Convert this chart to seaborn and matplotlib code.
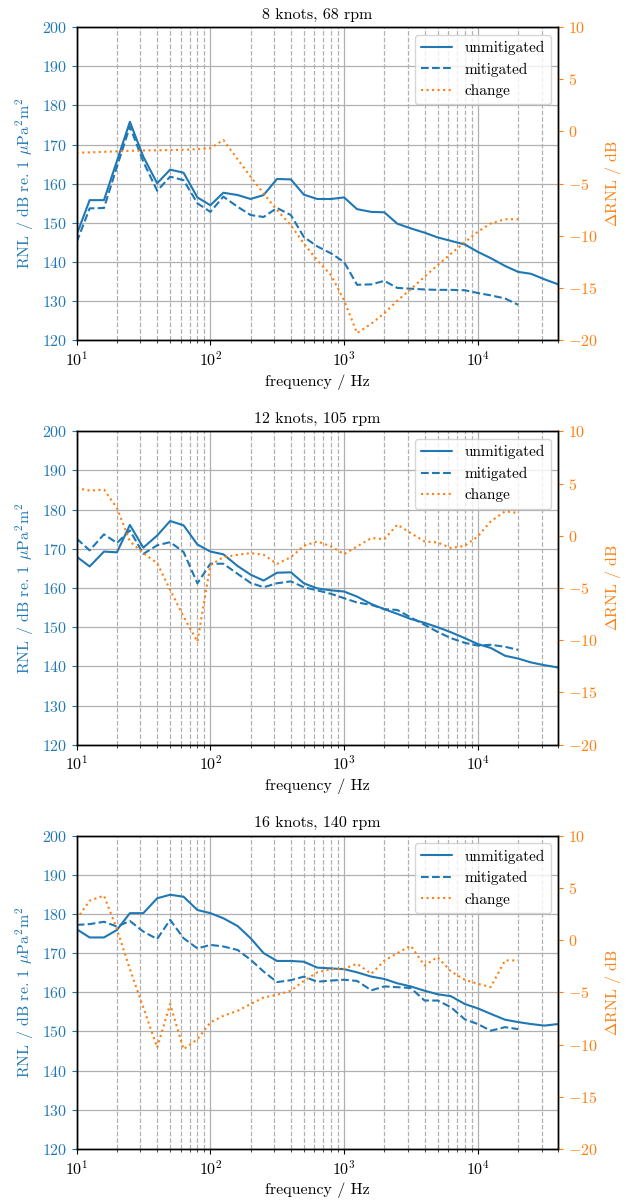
import matplotlib
matplotlib.use("Agg")
import matplotlib.pyplot as plt
import pandas as pd
import seaborn as sns

# one-third octave band centre frequencies (Hz)
freq = [10, 12.5, 16, 20, 25, 31.5, 40, 50, 63, 80, 100, 125, 160, 200, 250,
        315, 400, 500, 630, 800, 1000, 1250, 1600, 2000, 2500, 3150, 4000,
        5000, 6300, 8000, 10000, 12500, 16000, 20000, 25000, 31500, 40000]
n_mit = 34  # mitigated / change series stop at 20 kHz

titles = ["8 knots, 68 rpm", "12 knots, 105 rpm", "16 knots, 140 rpm"]

# --- 8 knots, 68 rpm ---
unmit_8 = [147.0, 155.8, 155.8, 165.8, 175.8, 166.9, 160.1, 163.6, 162.8, 156.5,
           154.5, 157.7, 157.1, 156.1, 157.1, 161.2, 161.1, 157.2, 156.1, 156.1,
           156.5, 153.5, 152.8, 152.7, 149.8, 148.6, 147.5, 146.3, 145.4, 144.5,
           142.6, 141.0, 139.0, 137.5, 137.0, 135.6, 134.3]
mit_8 = [145.1, 153.7, 153.8, 164.3, 174.6, 165.6, 158.2, 161.8, 160.9, 155.0,
         152.8, 156.7, 154.1, 152.0, 151.5, 153.8, 152.0, 146.4, 144.0, 142.2,
         140.0, 134.2, 134.3, 135.2, 133.4, 133.2, 133.0, 132.9, 132.9, 132.8,
         132.1, 131.5, 130.7, 129.1]
change_8 = [-2.03, -2.0, -1.95, -1.9, -1.85, -1.82, -1.8, -1.78, -1.75, -1.7,
            -1.6, -0.82, -2.67, -4.33, -5.93, -7.53, -8.97, -10.73, -12.33, -13.77,
            -16.16, -19.3, -18.4, -17.4, -16.2, -15.1, -13.9, -12.8, -11.7, -10.6,
            -9.6, -8.8, -8.4, -8.4]

# --- 12 knots, 105 rpm ---
unmit_12 = [168.0, 165.5, 169.3, 169.1, 176.1, 170.3, 173.4, 177.1, 176.0, 171.1,
            169.3, 168.6, 165.6, 163.4, 161.9, 163.9, 164.0, 161.2, 159.9, 159.4,
            159.1, 157.8, 155.9, 154.6, 153.4, 152.1, 151.1, 150.0, 148.7, 147.2,
            145.7, 144.7, 142.7, 142.0, 141.0, 140.3, 139.7]
mit_12 = [172.6, 169.6, 173.7, 171.5, 174.7, 168.7, 170.9, 171.7, 169.2, 161.2,
          166.2, 166.2, 163.6, 161.3, 160.2, 161.2, 161.7, 160.2, 159.4, 158.5,
          157.4, 156.3, 155.7, 154.6, 154.4, 152.5, 150.6, 148.8, 147.2, 146.0,
          145.3, 145.5, 145.0, 144.2]
change_12 = [4.58, 4.32, 4.42, 2.66, -0.54, -1.66, -2.62, -5.18, -7.74, -10.14,
             -2.8, -2.05, -1.82, -1.66, -1.82, -2.69, -2.05, -0.96, -0.54, -1.02,
             -1.76, -1.02, -0.22, -0.32, 1.06, 0.26, -0.54, -0.64, -1.18, -0.96,
             -0.06, 1.38, 2.34, 2.18]

# --- 16 knots, 140 rpm ---
unmit_16 = [176.1, 174.0, 174.0, 175.9, 180.2, 180.2, 184.0, 184.9, 184.4, 181.0,
            180.2, 178.9, 176.9, 173.8, 170.0, 168.0, 168.0, 167.8, 166.3, 166.1,
            165.9, 165.1, 164.0, 163.4, 162.3, 161.5, 160.4, 159.5, 159.0, 157.0,
            155.9, 154.5, 153.0, 152.4, 151.9, 151.5, 151.9]
mit_16 = [177.2, 177.4, 178.0, 176.8, 178.2, 175.5, 173.6, 178.5, 173.8, 171.2,
          172.1, 171.7, 170.8, 168.3, 165.3, 162.6, 163.1, 164.0, 162.7, 163.0,
          163.2, 162.9, 160.5, 161.5, 161.3, 161.1, 157.9, 157.9, 156.2, 153.1,
          151.9, 150.2, 151.1, 150.6]
change_16 = [2.0, 3.77, 4.25, 1.05, -2.78, -6.45, -10.29, -6.13, -10.45, -9.49,
             -7.89, -7.25, -6.77, -6.13, -5.50, -5.24, -4.86, -3.90, -3.10, -2.78,
             -2.75, -2.27, -3.23, -1.98, -1.25, -0.54, -2.43, -1.63, -3.0, -3.8,
             -4.19, -4.5, -1.95, -1.95]

panels = [(unmit_8, mit_8, change_8),
          (unmit_12, mit_12, change_12),
          (unmit_16, mit_16, change_16)]

BLUE = "#1f77b4"
ORANGE = "#ff7f0e"

sns.set_theme(style="ticks")
plt.rcParams.update({
    "font.family": ["cmr10"],
    "mathtext.fontset": "cm",
    "axes.formatter.use_mathtext": True,
    "font.size": 11.5,
    "axes.titlesize": 11.5,
    "axes.labelsize": 11.5,
    "xtick.labelsize": 11.5,
    "ytick.labelsize": 11.5,
    "legend.fontsize": 11,
    "axes.edgecolor": "black",
    "axes.linewidth": 1.0,
    "xtick.major.size": 3.5,
    "ytick.major.size": 3.5,
    "xtick.minor.size": 2.0,
    "xtick.major.width": 0.8,
    "ytick.major.width": 0.8,
    "xtick.minor.width": 0.6,
    "lines.linewidth": 1.5,
    "text.color": "black",
    "axes.labelcolor": "black",
})

fig, axes = plt.subplots(3, 1, figsize=(6.27, 12.0), dpi=100)
fig.subplots_adjust(left=0.1223, right=0.8904, top=0.9775, bottom=0.0425,
                    hspace=0.29)

for ax, title, (unmit, mit, change) in zip(axes, titles, panels):
    df_u = pd.DataFrame({"frequency": freq, "RNL": unmit})
    df_m = pd.DataFrame({"frequency": freq[:n_mit], "RNL": mit})
    df_c = pd.DataFrame({"frequency": freq[:n_mit], "dRNL": change})

    sns.lineplot(data=df_u, x="frequency", y="RNL", ax=ax, color=BLUE,
                 linestyle="-", label="unmitigated", legend=False)
    sns.lineplot(data=df_m, x="frequency", y="RNL", ax=ax, color=BLUE,
                 linestyle="--", label="mitigated", legend=False)

    ax2 = ax.twinx()
    sns.lineplot(data=df_c, x="frequency", y="dRNL", ax=ax2, color=ORANGE,
                 linestyle=":", label="change", legend=False)

    ax.set_xscale("log")
    ax.set_xlim(10, 40000)
    ax.set_ylim(120, 200)
    ax2.set_ylim(-20, 10)
    ax.set_yticks(range(120, 201, 10))
    ax2.set_yticks(range(-20, 11, 5))

    ax.grid(True, which="major", axis="both", color="#b0b0b0", lw=0.9, ls="-")
    ax.grid(True, which="minor", axis="x", color="#b0b0b0", lw=0.9, ls="--")
    ax.set_axisbelow(True)

    ax.set_title(title)
    ax.set_xlabel("frequency / Hz")
    ax.set_ylabel(r"RNL / dB re. 1 $\mu$Pa$^2$m$^2$", color=BLUE)
    ax2.set_ylabel(r"$\Delta$RNL / dB", color=ORANGE)
    ax.tick_params(axis="y", colors=BLUE)
    ax2.tick_params(axis="y", colors=ORANGE)
    ax.tick_params(axis="x", colors="black")
    for side in ("left", "right", "top", "bottom"):
        ax2.spines[side].set_color("black")
        ax.spines[side].set_color("black")

    for a in (ax, ax2):
        leg = a.get_legend()
        if leg is not None:
            leg.remove()

    handles = ax.get_lines()[:2] + ax2.get_lines()[:1]
    ax2.legend(handles, ["unmitigated", "mitigated", "change"],
               loc="upper right", frameon=True, fancybox=True,
               framealpha=0.8, edgecolor="0.8", facecolor="white")

fig.savefig("out.png", dpi=100)
